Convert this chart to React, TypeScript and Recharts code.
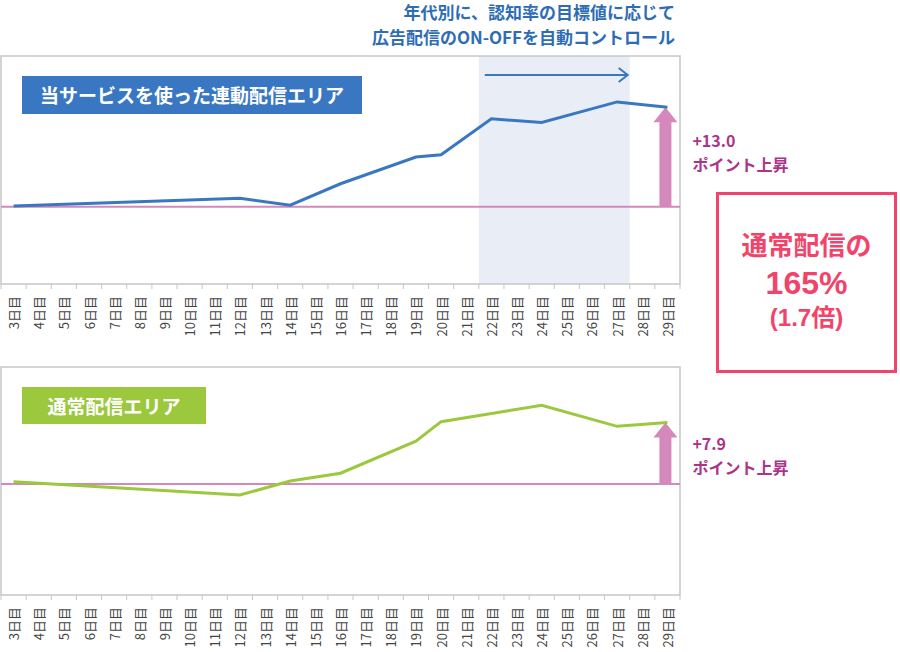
import React from 'react';
import { LineChart, Line, XAxis, YAxis, ReferenceLine, ReferenceArea } from 'recharts';

const days = [
  '3日目', '4日目', '5日目', '6日目', '7日目', '8日目', '9日目', '10日目', '11日目',
  '12日目', '13日目', '14日目', '15日目', '16日目', '17日目', '18日目', '19日目', '20日目',
  '21日目', '22日目', '23日目', '24日目', '25日目', '26日目', '27日目', '28日目', '29日目',
];

// 当サービスを使った連動配信エリア (points only where the source line bends)
const linkedValues = [
  0.1, null, null, null, null, null, null, null, null,
  1.1, null, 0.2, null, 3.0, null, null, 6.5, 6.8,
  null, 11.5, null, 11.0, null, null, 13.7, null, 13.0,
];

// 通常配信エリア
const normalValues = [
  0.3, null, null, null, null, null, null, null, null,
  -1.4, null, 0.4, null, 1.4, null, null, 5.5, 8.0,
  null, null, null, 10.1, null, null, 7.4, null, 7.9,
];

const linkedRise = ['+13.0', 'ポイント上昇'];
const normalRise = ['+7.9', 'ポイント上昇'];
const titleLines = ['年代別に、認知率の目標値に応じて', '広告配信のON-OFFを自動コントロール'];
const resultLines = ['通常配信の', '165%', '(1.7倍)'];

const FONT = "'Noto Sans CJK JP', 'Noto Sans', sans-serif";
const NUM_FONT = "'Liberation Sans', 'Noto Sans CJK JP', sans-serif";
const FRAME = '#c6c6c6';
const PINK = '#d488bb';
const PINK_TEXT = '#ac338a';
const BLUE = '#3a77c2';
const GREEN = '#9bc83d';
const RED = '#f2446a';

const W = 900;
const H = 342;
const margin = { top: 56, right: 220, bottom: 2, left: 1 };
const TICK_GAP = 12;
const band = (W - margin.left - margin.right) / days.length;

const DayTick = ({ x, y, payload, index }: any) => {
  const ay = y - TICK_GAP;
  return (
    <g>
      <line x1={x - band / 2} x2={x - band / 2} y1={ay} y2={ay + 5} stroke={FRAME} />
      {index === days.length - 1 && (
        <line x1={x + band / 2} x2={x + band / 2} y1={ay} y2={ay + 5} stroke={FRAME} />
      )}
      <text
        x={x}
        y={y}
        transform={`rotate(-90 ${x} ${y})`}
        textAnchor="end"
        dominantBaseline="central"
        fontSize={13}
        fill="#444"
        fontFamily={FONT}
      >
        {payload.value}
      </text>
    </g>
  );
};

const RiseArrow = ({ x1, y1, y2, lines, textTop }: any) => {
  const x = x1 - 2;
  const head = 15;
  return (
    <g>
      <polygon
        points={`${x - 6},${y1} ${x + 6},${y1} ${x + 6},${y2 + head} ${x + 12},${y2 + head} ${x},${y2} ${x - 12},${y2 + head} ${x - 6},${y2 + head}`}
        fill={PINK}
      />
      {lines.map((t: string, i: number) => (
        <text
          key={t}
          x={x + 27}
          y={y2 + textTop + i * 24}
          dominantBaseline="central"
          fontSize={16}
          fontWeight={700}
          fill={PINK_TEXT}
          fontFamily={FONT}
        >
          {t}
        </text>
      ))}
    </g>
  );
};

const ShadedSpan = ({ x, y, width, height }: any) => {
  const ay = y + 19;
  const x0 = x + 6;
  const x1 = x + width - 2;
  return (
    <g>
      <rect x={x} y={y} width={width} height={height} fill="#e9eef6" />
      <line x1={x0} x2={x1} y1={ay} y2={ay} stroke={BLUE} strokeWidth={2} />
      <polyline points={`${x1 - 9},${ay - 7} ${x1},${ay} ${x1 - 9},${ay + 7}`} fill="none" stroke={BLUE} strokeWidth={2} />
    </g>
  );
};

interface AreaChartProps {
  values: (number | null)[];
  domain: [number, number];
  color: string;
  rise: string[];
  textTop: number;
  shaded?: boolean;
}

function DayChart({ values, domain, color, rise, textTop, shaded }: AreaChartProps) {
  const data = days.map((d, i) => ({ day: d, value: values[i] }));
  const last = days.length - 1;
  return (
    <LineChart width={W} height={H} data={data} margin={margin}>
      <XAxis
        dataKey="day"
        scale="band"
        interval={0}
        height={56}
        axisLine={false}
        tickLine={false}
        tickSize={0}
        tickMargin={TICK_GAP}
        tick={<DayTick />}
      />
      <YAxis type="number" domain={domain} hide />
      {shaded && (
        <ReferenceArea x1="22日目" x2="27日目" y1={domain[0]} y2={domain[1]} shape={<ShadedSpan />} />
      )}
      <ReferenceArea
        x1={days[0]}
        x2={days[last]}
        y1={domain[0]}
        y2={domain[1]}
        fill="none"
        stroke={FRAME}
        strokeWidth={1.5}
      />
      <ReferenceLine y={0} stroke={PINK} strokeWidth={2} />
      <ReferenceLine
        segment={[{ x: days[last], y: 0 }, { x: days[last], y: values[last] as number }]}
        shape={(p: any) => <RiseArrow {...p} lines={rise} textTop={textTop} />}
      />
      <Line
        type="linear"
        dataKey="value"
        stroke={color}
        strokeWidth={3}
        dot={false}
        connectNulls
        isAnimationActive={false}
      />
    </LineChart>
  );
}

const tagStyle: React.CSSProperties = {
  position: 'absolute',
  left: 22,
  color: '#fff',
  fontSize: 19,
  fontWeight: 700,
  textAlign: 'center',
  fontFamily: FONT,
};

export default function App() {
  return (
    <div style={{ position: 'absolute', left: 0, top: 0, width: 900, height: 652, background: '#fff', fontFamily: FONT }}>
      <div style={{ position: 'absolute', left: 0, top: 0 }}>
        <DayChart values={linkedValues} domain={[-10.1, 19.7]} color={BLUE} rise={linkedRise} textTop={33} shaded />
      </div>
      <div style={{ position: 'absolute', left: 0, top: 311 }}>
        <DayChart values={normalValues} domain={[-14.2, 15]} color={GREEN} rise={normalRise} textTop={21} />
      </div>

      <div
        style={{
          position: 'absolute',
          right: 225,
          top: -1,
          textAlign: 'right',
          color: '#2e6db5',
          fontSize: 17,
          fontWeight: 700,
          lineHeight: '25px',
          whiteSpace: 'nowrap',
        }}
      >
        {titleLines.map((t) => (
          <div key={t}>{t}</div>
        ))}
      </div>

      <div style={{ ...tagStyle, top: 76, width: 340, height: 38, lineHeight: '38px', background: BLUE }}>
        当サービスを使った連動配信エリア
      </div>
      <div style={{ ...tagStyle, top: 387, width: 184, height: 37, lineHeight: '37px', background: GREEN }}>
        通常配信エリア
      </div>

      <div
        style={{
          position: 'absolute',
          left: 716,
          top: 192,
          width: 181,
          height: 181,
          boxSizing: 'border-box',
          border: `3px solid ${RED}`,
          color: RED,
          fontWeight: 700,
          textAlign: 'center',
        }}
      >
        <div style={{ position: 'absolute', left: 0, right: 0, top: 35, fontSize: 26, lineHeight: '28px' }}>{resultLines[0]}</div>
        <div style={{ position: 'absolute', left: 0, right: 0, top: 72, fontSize: 32, lineHeight: '32px', fontFamily: NUM_FONT }}>
          {resultLines[1]}
        </div>
        <div style={{ position: 'absolute', left: 0, right: 0, top: 111, fontSize: 24, lineHeight: '24px', fontFamily: NUM_FONT }}>
          {resultLines[2]}
        </div>
      </div>
    </div>
  );
}
